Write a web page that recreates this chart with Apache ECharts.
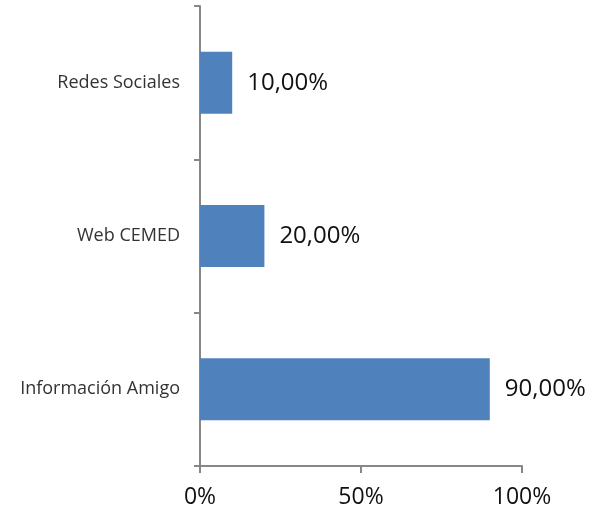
<!DOCTYPE html>
<html>
<head>
<meta charset="utf-8">
<script src="https://cdn.jsdelivr.net/npm/echarts@6/dist/echarts.min.js"></script>
<style>
  html, body { margin: 0; padding: 0; background: #fff; }
  #main { width: 603px; height: 515px; }
</style>
</head>
<body>
<div id="main"></div>
<script>
const categories = ['Información Amigo', 'Web CEMED', 'Redes Sociales'];
const values = [90, 20, 10];
const xTicks = [0, 50, 100];

const chart = echarts.init(document.getElementById('main'));

const option = {
  animation: false,
  backgroundColor: '#ffffff',
  grid: { left: 200, top: 6, right: 81, bottom: 49 },
  xAxis: {
    type: 'value',
    min: xTicks[0],
    max: xTicks[xTicks.length - 1],
    interval: xTicks[1] - xTicks[0],
    splitLine: { show: false },
    axisLine: { show: true, lineStyle: { color: '#878787', width: 2 } },
    axisTick: { show: true, length: 7, lineStyle: { color: '#878787', width: 2 } },
    axisLabel: {
      formatter: '{value}%',
      margin: 20,
      fontFamily: 'Open Sans',
      fontSize: 23,
      color: '#111'
    }
  },
  yAxis: {
    type: 'category',
    data: categories,
    axisLine: { show: true, lineStyle: { color: '#878787', width: 2 } },
    axisTick: { show: true, length: 6, lineStyle: { color: '#878787', width: 2 } },
    axisLabel: {
      margin: 20,
      fontFamily: 'Open Sans',
      fontSize: 18,
      color: '#333'
    }
  },
  series: [
    {
      type: 'bar',
      data: values,
      barWidth: 62,
      itemStyle: { color: '#4f81bd' },
      label: {
        show: true,
        position: 'right',
        distance: 15,
        formatter: p => p.value.toFixed(2).replace('.', ',') + '%',
        fontFamily: 'Open Sans',
        fontSize: 24,
        color: '#111'
      }
    }
  ]
};

chart.setOption(option);
</script>
</body>
</html>
